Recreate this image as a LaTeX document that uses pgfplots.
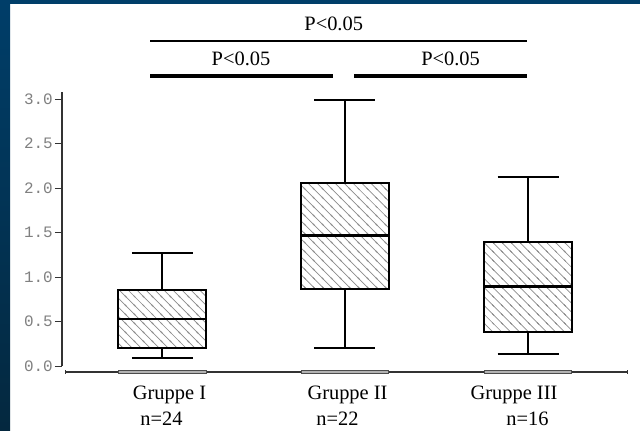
\documentclass[border=0pt]{standalone}
\usepackage{pgfplots}
\pgfplotsset{compat=1.18}
\usepgfplotslibrary{statistics}
\usetikzlibrary{patterns}
\usepackage{fontspec}
\setmainfont{Liberation Serif}
\newfontfamily\tickfont{Liberation Mono}
\definecolor{frame}{HTML}{003E69}
\definecolor{frameb}{HTML}{04283F}
\definecolor{hatch}{HTML}{8C8C8C}
\pgfdeclarepatternformonly{hatchlines}{\pgfqpoint{-1pt}{-1pt}}{\pgfqpoint{10pt}{10pt}}{\pgfqpoint{9pt}{9pt}}{%
  \pgfsetlinewidth{0.7pt}%
  \pgfpathmoveto{\pgfqpoint{0pt}{9pt}}\pgfpathlineto{\pgfqpoint{9pt}{0pt}}%
  \pgfpathmoveto{\pgfqpoint{-1pt}{1pt}}\pgfpathlineto{\pgfqpoint{1pt}{-1pt}}%
  \pgfpathmoveto{\pgfqpoint{8pt}{10pt}}\pgfpathlineto{\pgfqpoint{10pt}{8pt}}%
  \pgfusepath{stroke}}
\pgfplotsset{boxst/.style={draw=black, line width=2bp,
  pattern=hatchlines, pattern color=hatch,
  boxplot/draw direction=y,
  boxplot/every median/.style={line width=2.8bp}}}
\newcommand{\px}[1]{((#1)-162.25)/182.9+1}
\begin{document}
\begin{tikzpicture}
\useasboundingbox (0bp,0bp) rectangle (640bp,431bp);
\fill[white] (0bp,0bp) rectangle (640bp,431bp);
\shade[top color=frame, bottom color=frameb] (0bp,0bp) rectangle (10bp,431bp);
\fill[frame] (0bp,427bp) rectangle (640bp,431bp);
\begin{axis}[at={(62bp,59bp)}, anchor=south west, scale only axis,
  width=565bp, height=280bp,
  xmin=0.45188, xmax=3.54101, ymin=-0.0674, ymax=3.0787, clip=false,
  axis x line*=bottom, axis y line*=left, axis line style={draw=none},
  xtick=\empty, ytick={0,0.5,1,1.5,2,2.5,3},
  tick align=outside, major tick length=7bp,
  ytick style={black!80, line width=1bp},
  yticklabel style={font=\tickfont\fontsize{16}{16}\selectfont, text=black!50, inner sep=0pt, xshift=-2bp,
    /pgf/number format/fixed, /pgf/number format/fixed zerofill, /pgf/number format/precision=1},
  /pgf/number format/assume math mode=true,
  font=\fontsize{20.5}{24}\selectfont]
\addplot[boxst, boxplot prepared={draw position=1, lower whisker=0.086, lower quartile=0.199,
  median=0.528, upper quartile=0.854, upper whisker=1.266, box extend=0.48114, whisker extend=0.33352}] coordinates {};
\addplot[boxst, boxplot prepared={draw position=1.99781, lower whisker=0.206, lower quartile=0.862,
  median=1.464, upper quartile=2.053, upper whisker=2.989, box extend=0.48114, whisker extend=0.33352}] coordinates {};
\addplot[boxst, boxplot prepared={draw position=2.99973, lower whisker=0.135, lower quartile=0.378,
  median=0.891, upper quartile=1.390, upper whisker=2.120, box extend=0.48114, whisker extend=0.33352}] coordinates {};
% axis lines
\draw[black!80, line width=1.1bp] (axis cs:{\px{62}},0) -- (axis cs:{\px{62}},3.0787);
\draw[black!80, line width=1.1bp] (axis cs:{\px{65}},-0.0674) -- (axis cs:{\px{627}},-0.0674);
\draw[black!80, line width=1bp] (axis cs:{\px{65}},-0.05) -- (axis cs:{\px{65}},-0.085);
\draw[black!80, line width=1bp] (axis cs:{\px{627}},-0.05) -- (axis cs:{\px{627}},-0.085);
\draw[black!70, line width=3.4bp] (axis cs:{\px{118}},-0.0674) -- (axis cs:{\px{207}},-0.0674);
\draw[black!30, line width=1.6bp] (axis cs:{\px{119}},-0.0674) -- (axis cs:{\px{206}},-0.0674);
\draw[black!70, line width=3.4bp] (axis cs:{\px{301}},-0.0674) -- (axis cs:{\px{389}},-0.0674);
\draw[black!30, line width=1.6bp] (axis cs:{\px{302}},-0.0674) -- (axis cs:{\px{388}},-0.0674);
\draw[black!70, line width=3.4bp] (axis cs:{\px{484}},-0.0674) -- (axis cs:{\px{572}},-0.0674);
\draw[black!30, line width=1.6bp] (axis cs:{\px{485}},-0.0674) -- (axis cs:{\px{571}},-0.0674);
% significance bars
\draw[black, line width=1.6bp] (axis cs:{\px{150}},3.655) -- (axis cs:{\px{527}},3.655);
\draw[black, line width=3.6bp] (axis cs:{\px{150}},3.258) -- (axis cs:{\px{332.7}},3.258);
\draw[black, line width=3.6bp] (axis cs:{\px{354}},3.258) -- (axis cs:{\px{527}},3.258);
\node[anchor=base, inner sep=0pt] at (axis cs:{\px{333.7}},3.775) {P<0.05};
\node[anchor=base, inner sep=0pt] at (axis cs:{\px{241}},3.371) {P<0.05};
\node[anchor=base, inner sep=0pt] at (axis cs:{\px{450.6}},3.371) {P<0.05};
% group labels
\node[anchor=base, inner sep=0pt] at (axis cs:{\px{169.5}},-0.371) {Gruppe I};
\node[anchor=base, inner sep=0pt] at (axis cs:{\px{161.5}},-0.674) {n=24};
\node[anchor=base, inner sep=0pt] at (axis cs:{\px{347.5}},-0.371) {Gruppe II};
\node[anchor=base, inner sep=0pt] at (axis cs:{\px{337.5}},-0.674) {n=22};
\node[anchor=base, inner sep=0pt] at (axis cs:{\px{514}},-0.371) {Gruppe III};
\node[anchor=base, inner sep=0pt] at (axis cs:{\px{527.5}},-0.674) {n=16};
\end{axis}
\end{tikzpicture}
\end{document}
